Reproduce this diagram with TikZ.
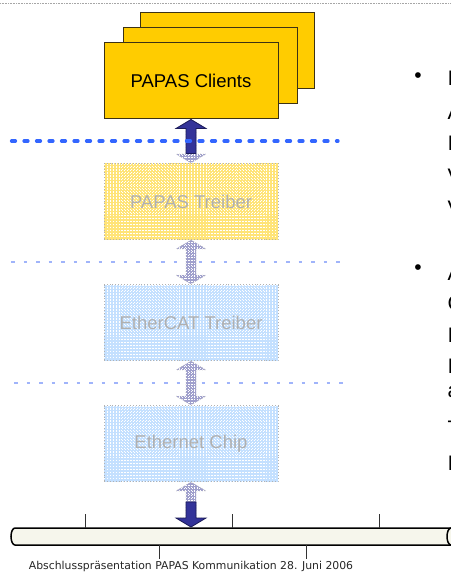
\documentclass[tikz,border=0pt]{standalone}
\usepackage{fontspec}
\setmainfont{Liberation Sans}
\newfontfamily\footfont{DejaVu Sans}
\usetikzlibrary{calc}

\definecolor{clientfill}{RGB}{255,204,0}
\definecolor{clientedge}{RGB}{60,50,20}
\definecolor{paleyellow}{RGB}{255,228,120}
\definecolor{paleblue}{RGB}{196,224,255}
\definecolor{palearrow}{RGB}{160,160,205}
\definecolor{darkarrow}{RGB}{51,51,153}
\definecolor{darkedge}{RGB}{28,28,90}
\definecolor{sepblue}{RGB}{51,102,255}
\definecolor{sepfaint}{RGB}{160,180,250}
\definecolor{barfill}{RGB}{246,246,236}

\tikzset{
  client/.style={draw=clientedge, line width=1pt, fill=clientfill,
    minimum width=174pt, minimum height=76pt, inner sep=0pt},
  meshed/.style={path picture={
    \foreach \i in {0,3,...,180}
      \draw[white, line width=0.8pt]
        ([xshift=\i pt]path picture bounding box.south west) --
        ([xshift=\i pt]path picture bounding box.north west);
    \foreach \j in {0,3,...,81}
      \draw[white, line width=0.8pt]
        ([yshift=\j pt]path picture bounding box.south west) --
        ([yshift=\j pt]path picture bounding box.south east);}},
  layer/.style={meshed, draw=gray!60, dotted, line width=0.9pt,
    minimum width=174pt, minimum height=76pt, inner sep=0pt,
    text=gray!62, font=\fontsize{18.5}{22}\selectfont},
  yellowlayer/.style={layer, fill=paleyellow},
  bluelayer/.style={layer, fill=paleblue},
  fadedarrow/.style={fill=palearrow, draw=gray!55, dotted, line width=0.6pt, meshed},
  solidarrow/.style={fill=darkarrow, draw=darkedge, line width=0.8pt},
  mainsep/.style={sepblue, line width=3.2pt, line cap=round, dash pattern=on 4pt off 8.5pt},
  faintsep/.style={sepfaint, line width=2pt, dash pattern=on 3.5pt off 9pt},
  tick/.style={gray!40!black, line width=1pt},
  bulletdot/.style={inner sep=0pt, font=\fontsize{21}{24}\selectfont},
  cutword/.style={inner sep=0pt, anchor=base west, font=\fontsize{21}{24}\selectfont},
}

% double-headed block arrow from #1 (upper tip) down to #2 (lower tip)
\newcommand\blockarr[3]{%
  \path[#3] (#1) -- ($(#1)+(15,9)$) -- ($(#1)+(5,9)$) -- ($(#2)+(5,-9)$)
    -- ($(#2)+(15,-9)$) -- (#2) -- ($(#2)+(-15,-9)$) -- ($(#2)+(-5,-9)$)
    -- ($(#1)+(-5,9)$) -- ($(#1)+(-15,9)$) -- cycle;}

\begin{document}
\begin{tikzpicture}[x=1pt, y=-1pt]
\useasboundingbox (0,0) rectangle (450,572);

% top rule
\draw[gray!70, line width=0.8pt, dash pattern=on 0.8pt off 0.8pt] (0,3) -- (450,3);

% stacked client boxes
\node[client] (cl3) at (227,51) {};
\node[client] (cl2) at (210,66) {};
\node[client, font=\fontsize{18.5}{22}\selectfont] (cl) at (191,81) {PAPAS Clients};

% protocol layers
\node[yellowlayer] (pt) at (191,201.5) {PAPAS Treiber};
\node[bluelayer] (et) at (191,322.5) {EtherCAT Treiber};
\node[bluelayer] (ec) at (191,443.5) {Ethernet Chip};

% layer separators
\draw[faintsep] (11,262) -- (342,262);
\draw[faintsep] (14,383) -- (345,383);

% bus bar
\coordinate (bus) at (191,527);
\filldraw[fill=barfill, draw=black, line width=1.5pt]
  (452,528) -- (15,528) arc[start angle=270, end angle=90, x radius=4, y radius=8.5]
  -- (452,545);
\draw[black, line width=1.5pt] (451,536.5) ellipse[x radius=4, y radius=8.5];
\foreach \x in {85,232,379} \draw[tick] (\x,514) -- (\x,528);
\foreach \x in {159,306} \draw[tick] (\x,545) -- (\x,559);

% arrows between layers
\blockarr{cl.south}{pt.north}{fadedarrow}
\filldraw[solidarrow] (cl.south) -- +(15,9) -- +(5,9) -- +(5,34) -- +(-5,34)
  -- +(-5,9) -- +(-15,9) -- cycle;
\blockarr{pt.south}{et.north}{fadedarrow}
\blockarr{et.south}{ec.north}{fadedarrow}
\blockarr{ec.south}{bus}{fadedarrow}
\filldraw[solidarrow] (bus) -- +(15,-9) -- +(5,-9) -- +(5,-25) -- +(-5,-25)
  -- +(-5,-9) -- +(-15,-9) -- cycle;

% application boundary
\draw[mainsep] (11.5,141) -- (338,141);

% bullet column
\node[bulletdot] (b1) at (418,78) {•};
\node[bulletdot] (b2) at (418,270) {•};
\foreach \y/\w in {86/I,120/A,150/I,183/V,215/V}
  \node[cutword] at (447.5,\y) {\w};
\foreach \y/\w in {280/A,310/C,342/I,373/I,397/a,435/T,470/I}
  \node[cutword] at (447.5,\y) {\w};

% footer
\node[font=\footfont\fontsize{10.85}{13}\selectfont, text=black!85, inner sep=0pt]
  (foot) at (191,566) {Abschlusspräsentation PAPAS Kommunikation 28. Juni 2006};
\end{tikzpicture}
\end{document}
